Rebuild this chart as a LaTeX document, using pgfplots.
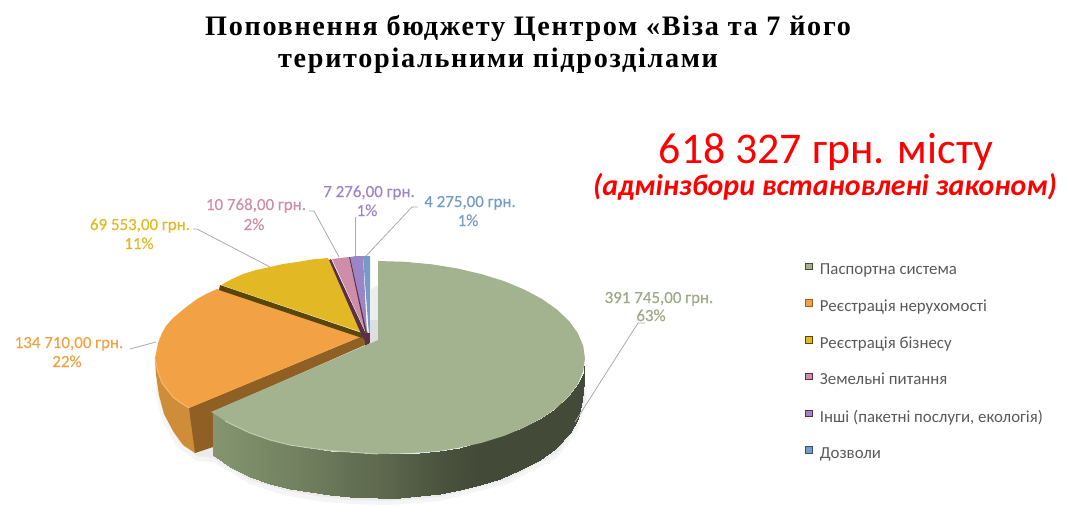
\documentclass[border=0pt]{standalone}
\usepackage{fontspec}
\setmainfont{Carlito}
\newfontfamily\titlefont[LetterSpace=6]{Liberation Serif}
\usepackage{pgfplots}
\pgfplotsset{compat=1.18}

\definecolor{green1}{HTML}{A4B38F}
\definecolor{sideL}{HTML}{84956F}
\definecolor{sideD}{HTML}{434A37}
\definecolor{orange1}{HTML}{F2A245}
\definecolor{orangeS}{HTML}{CF8D3A}
\definecolor{orangeD}{HTML}{8F5F24}
\definecolor{yellow1}{HTML}{E3B825}
\definecolor{yellowD}{HTML}{5B4608}
\definecolor{pink1}{HTML}{CE8DA8}
\definecolor{pinkD}{HTML}{5A3043}
\definecolor{violet1}{HTML}{9C85C6}
\definecolor{blue1}{HTML}{739CC7}
\definecolor{leader}{HTML}{A9A9A9}

\newcommand{\lbl}[4]{% x, baseline y, colour, text
  \node[anchor=base,text=#3,font=\fontsize{17}{20}\selectfont\addfontfeature{FakeBold=0.3}] at (axis cs:#1,#2) {#4};}

\begin{document}
\begin{tikzpicture}
\path[use as bounding box] (0,0) rectangle (1069bp,506bp);
\begin{axis}[
  at={(0,0)}, anchor=south west,
  scale only axis,
  width=1069bp, height=506bp,
  xmin=0, xmax=1069,
  ymin=0, ymax=506,
  y dir=reverse,
  hide axis,
  colormap={bigside}{color=(sideD) color=(sideL)},
  slice/.style={fill=#1,draw=none,forget plot},
  lead/.style={draw=leader,line width=.8pt,forget plot},
  legend cell align=left,
  legend style={at={(axis cs:805,261.5)},anchor=north west,draw=none,fill=none,
    font=\fontsize{16.9}{20}\selectfont,text=black!65,row sep=19.8pt,inner sep=0pt,
    /tikz/every odd column/.append style={column sep=5pt}},
  legend image code/.code={\path[#1] (0.1cm,0cm) rectangle (0.34cm,0.24cm);},
]

% soft shadow under the pie
\addplot[slice=black!4] coordinates {(156,380)(156,395)(162,420)(176,446)(197,461)(213,462)(250,484)(283,495)(317,501)(350,504)(390,505)(440,501)(507,484)(557,458)(578,430)(587,400)(584,380)} --cycle;
\addplot[slice=black!8] coordinates {(157,380)(158,395)(164,412)(178,441)(197,456)(213,458)(250,480)(283,490)(317,496)(350,500)(390,501)(440,497)(507,480)(557,453)(576,428)(585,400)(584,380)} --cycle;

% orange slice: side, cut face, top
\addplot[slice=orangeS] coordinates {(155,358)(156,375)(159,395)(164,414)(173,431)(183,445)(195,453)(195,440)(189,408)(173,397)} --cycle;
\addplot[slice=orangeD] coordinates {(360,337)(189,408)(195,453)(213,447)(213,412)(365,345)(365,335)} --cycle;
\addplot[slice=orange1] coordinates {(360,337)(217,289)(206,294)(197,299)(185,308)(173,318)(166,326)(162,333)(158,343)(155,358)(158,372)(162,383)(173,397)(181,403)(189,408)} --cycle;
\addplot[draw=orange1!75!white,line width=1pt,forget plot] coordinates {(155,358)(158,372)(162,383)(173,397)(181,403)(189,408)};

% yellow slice and its dark edge
\addplot[slice=yellowD] coordinates {(220,285)(219,290)(362,338)(365,334)} --cycle;
\addplot[slice=yellow1] coordinates {(364,333)(221,285)(232,279)(243,274)(256,270)(270,267)(283,264)(297,262)(312,259.5)(328,258)} --cycle;

% small slices
\addplot[slice=pinkD] coordinates {(329,260)(331,259)(366,334)(366,343)(362,336)} --cycle;
\addplot[slice=pink1] coordinates {(366,333)(332,259)(340,258)(349,257)} --cycle;
\addplot[slice=pinkD] coordinates {(349,257)(351,257)(368,335)(366,335)} --cycle;
\addplot[slice=violet1] coordinates {(367,333)(350,257)(356,256)(363,256)} --cycle;
\addplot[slice=blue1] coordinates {(369,335)(363,256)(370,256)(370,335)} --cycle;
\addplot[slice=pinkD] coordinates {(365,333)(370,333)(370,343)(365,346)} --cycle;

% gap next to the big slice
\addplot[slice=black!7] coordinates {(370,290)(378,285)(378,340)(370,343)} --cycle;
\addplot[slice=black!13] coordinates {(370,320)(378,320)(378,340)(370,343)} --cycle;

% side of the big slice, darker towards the right: top edge, then bottom edge
\addplot[surf,shader=interp,mesh/rows=2,mesh/cols=22,point meta=explicit,forget plot] coordinates {
  (213,413) [100] (230,424) [95] (250,433) [88] (270,440) [80] (290,445) [75] (310,448) [68]
  (330,450.5) [60] (350,452) [50] (378,454) [42] (400,453.5) [32] (420,452.5) [22] (440,451) [12]
  (460,447.5) [5] (480,442) [0] (500,436) [0] (520,428.5) [0] (540,418.5) [0] (555,408.5) [0]
  (570,394.5) [0] (578,383.7) [0] (584,372) [0] (585,358.5) [0]
  (213,455) [100] (230,467) [95] (250,477) [88] (270,483.5) [80] (290,489) [75] (310,492) [68]
  (330,494.5) [60] (350,497) [50] (378,498) [42] (400,497.5) [32] (420,496) [22] (440,493.5) [12]
  (460,489.7) [5] (480,485) [0] (500,478.5) [0] (520,470.4) [0] (540,459.6) [0] (555,448.7) [0]
  (570,433.1) [0] (578,419.3) [0] (582,400) [0] (585,372) [0]
};

% top of the big slice
\addplot[slice=green1] coordinates {
  (378,340)(378,261)(405,261.8)(431.6,264.3)(457.2,268.4)(481.5,274.1)(504,281.1)(524.4,289.6)
  (542.2,299.1)(557.3,309.8)(569.2,321.2)(577.9,333.3)(583.2,345.8)(585,358.5)(583.2,371.2)
  (577.9,383.7)(569.2,395.8)(557.3,407.3)(542.2,417.9)(524.4,427.4)(504,435.9)(481.5,442.9)
  (460,447.5)(440,451)(420,452.5)(400,453.5)(378,454)(350,452)(330,450.5)(310,448)(290,445)
  (270,440)(250,433)(230,424)(213,413)(211,412)} --cycle;
\addplot[draw=green1!70!white,line width=1pt,forget plot] coordinates {(225,421)(250,433)(270,440)(290,445)(310,448)(330,450.5)(350,452)(378,454)};

% leader lines
\addplot[lead] coordinates {(645,323)(638,323)(575,422)};
\addplot[lead] coordinates {(130,349)(156,342)};
\addplot[lead] coordinates {(193,229)(197,229)(270,267)};
\addplot[lead] coordinates {(309,211)(314,211)(339,257)};
\addplot[lead] coordinates {(355,217)(355,256)};
\addplot[lead] coordinates {(418,207)(412,207)(366,256)};

% value labels
\lbl{659}{303}{green1!95!black}{391 745,00 грн.}
\lbl{651}{321}{green1!95!black}{63\%}
\lbl{69}{348}{orange1}{134 710,00 грн.}
\lbl{67}{367}{orange1}{22\%}
\lbl{140}{230}{yellow1}{69 553,00 грн.}
\lbl{139}{249}{yellow1}{11\%}
\lbl{256}{210}{pink1}{10 768,00 грн.}
\lbl{254}{230}{pink1}{2\%}
\lbl{369}{197}{violet1}{7 276,00 грн.}
\lbl{367}{216}{violet1}{1\%}
\lbl{470}{207}{blue1}{4 275,00 грн.}
\lbl{468}{226}{blue1}{1\%}

% title and the total
\node[anchor=base west,inner sep=0pt,font={\titlefont\bfseries\fontsize{28.3}{32}\selectfont}] at (axis cs:205,36) {Поповнення бюджету Центром «Віза та 7 його};
\node[anchor=base west,inner sep=0pt,font={\titlefont\bfseries\fontsize{28.3}{32}\selectfont}] at (axis cs:278,68) {територіальними підрозділами};
\node[anchor=base,text=red,font=\fontsize{44}{48}\selectfont] at (axis cs:826,163) {618 327 грн. місту};
\node[anchor=base,text=red,font=\bfseries\itshape\fontsize{30}{34}\selectfont] at (axis cs:825,195) {(адмінзбори встановлені законом)};

% legend
\addlegendimage{fill=green1,draw=sideD,line width=1pt}
\addlegendentry{Паспортна система}
\addlegendimage{fill=orange1,draw=orangeD,line width=1pt}
\addlegendentry{Реєстрація нерухомості}
\addlegendimage{fill=yellow1,draw=yellowD,line width=1pt}
\addlegendentry{Реєстрація бізнесу}
\addlegendimage{fill=pink1,draw=pinkD,line width=1pt}
\addlegendentry{Земельні питання}
\addlegendimage{fill=violet1,draw=pinkD,line width=1pt}
\addlegendentry{Інші (пакетні послуги, екологія)}
\addlegendimage{fill=blue1,draw=blue1!50!black,line width=1pt}
\addlegendentry{Дозволи}
\end{axis}
\end{tikzpicture}
\end{document}
